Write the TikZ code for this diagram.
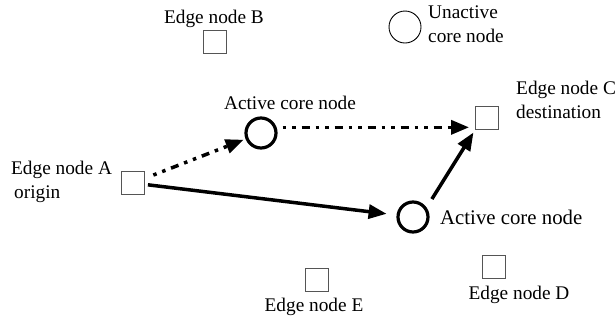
\documentclass[tikz,border=0pt]{standalone}
\usepackage{fontspec}
\setmainfont{Liberation Serif}
\usetikzlibrary{arrows.meta}

\begin{document}
\begin{tikzpicture}[x=1pt, y=-1pt,
    edgeNode/.style={draw=borderColour, line width=0.9pt, minimum size=23pt, inner sep=0pt},
    coreNode/.style={circle, draw=black, line width=0.9pt, minimum size=32pt, inner sep=0pt},
    activeNode/.style={circle, draw=black, line width=3.2pt, minimum size=30pt, inner sep=0pt},
    textLabel/.style={inner sep=0pt, align=left, font=\fontsize{19.3}{24}\selectfont},
    bigLabel/.style={inner sep=0pt, font=\fontsize{20.8}{24}\selectfont},
    flowLine/.style={line width=3.5pt, -{Triangle[length=18pt, width=14pt]}},
    dashFlow/.style={flowLine, dash pattern=on 3.5pt off 6pt on 3.5pt off 6pt on 8pt off 6pt}]

    \definecolor{borderColour}{HTML}{555555}

    % Fix the page size
    \useasboundingbox (0,0) rectangle (615,322);

    % Edge nodes
    \node[edgeNode] (edgeA) at (133,183) {};
    \node[edgeNode] (edgeB) at (215,42) {};
    \node[edgeNode] (edgeC) at (487,118) {};
    \node[edgeNode] (edgeD) at (494,267) {};
    \node[edgeNode] (edgeE) at (317,280) {};

    % Core nodes
    \node[coreNode] (coreIdle) at (405,27) {};
    \node[activeNode] (coreTop) at (261,133) {};
    \node[activeNode] (coreBot) at (413,217) {};

    % Labels
    \node[textLabel, anchor=west] (labelA) at (11,182) {Edge node A\\\hspace*{3pt}origin};
    \node[textLabel] (labelB) at (214,19) {Edge node B};
    \node[textLabel, anchor=west] (labelC) at (516,100) {Edge node C\\destination};
    \node[textLabel] (labelD) at (519,295) {Edge node D};
    \node[textLabel] (labelE) at (314,307) {Edge node E};
    \node[textLabel, anchor=west] (labelIdle) at (428,24) {Unactive\\core node};
    \node[textLabel] (labelTop) at (290,103) {Active core node};
    \node[bigLabel, anchor=west] (labelBot) at (440,217) {Active core node};

    % Paths
    \draw[dashFlow, shorten <=9pt, shorten >=2pt] (edgeA) -- (coreTop);
    \draw[dashFlow, shorten <=6pt, shorten >=6pt] (coreTop.20) -- (coreTop.20 -| edgeC.west);
    \draw[flowLine, shorten <=3pt, shorten >=10pt] (edgeA) -- (coreBot);
    \draw[flowLine, shorten <=10pt, shorten >=3pt] (coreBot.35) -- (edgeC.south west);

\end{tikzpicture}
\end{document}
